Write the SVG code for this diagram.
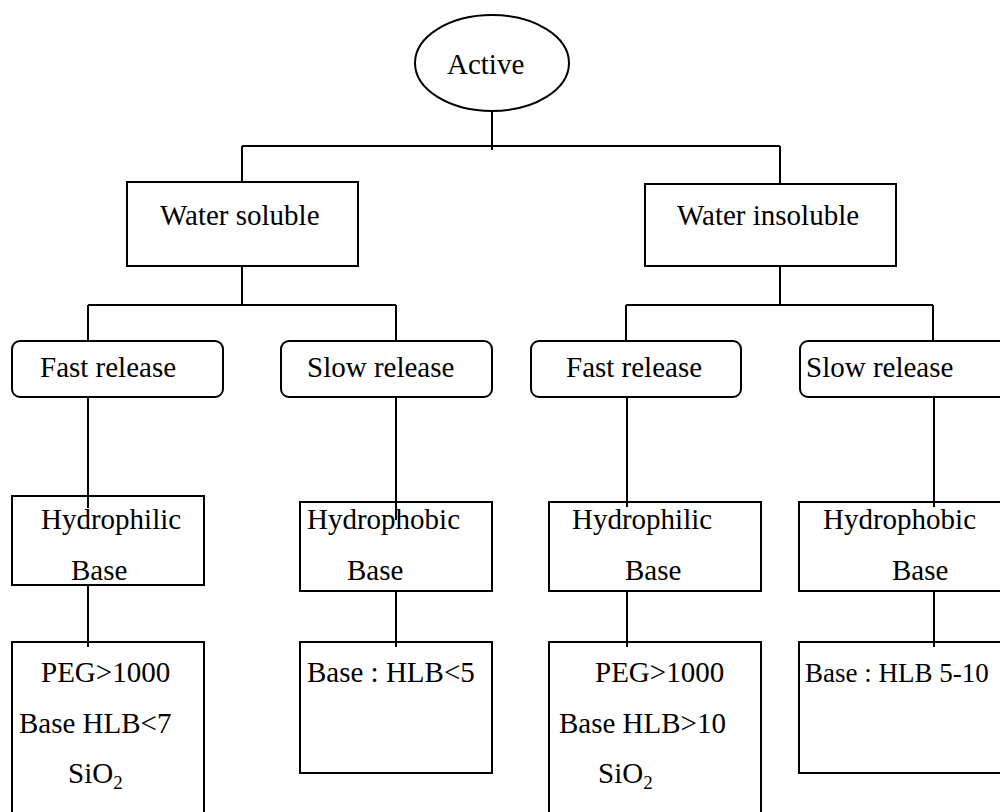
<svg xmlns="http://www.w3.org/2000/svg" width="1000" height="812" viewBox="0 0 1000 812">
<style>
.n{fill:#fff;stroke:#000;stroke-width:2}
.c{fill:none;stroke:#000;stroke-width:2}
text{font-family:"Liberation Serif","Times New Roman",serif;font-size:29px;fill:#000}
.sub{font-size:19px}
</style>
<rect width="1000" height="812" fill="#fff"/>
<g id="connectors">
<path class="c" d="M492,112V150M242,146H780M242,146V183M780,146V184"/>
<path class="c" d="M242,266V305M88,305H396M88,305V343M396,305V343"/>
<path class="c" d="M780,266V305M626,305H933M626,305V343M933,305V343"/>
</g>
<g id="n-active"><ellipse class="n" cx="492" cy="63" rx="77" ry="48"/><text x="447" y="74">Active</text></g>
<g id="n-ws"><rect class="n" x="127" y="182" width="231" height="84"/><text x="160" y="225">Water soluble</text></g>
<g id="n-wi"><rect class="n" x="645" y="184" width="251" height="82"/><text x="677" y="225">Water insoluble</text></g>
<g id="n-fr1"><rect class="n" x="12" y="341" width="211" height="56" rx="8"/><text x="40" y="377">Fast release</text></g>
<g id="n-sr1"><rect class="n" x="281" y="341" width="211" height="56" rx="8"/><text x="307" y="377">Slow release</text></g>
<g id="n-fr2"><rect class="n" x="531" y="341" width="210" height="56" rx="8"/><text x="566" y="377">Fast release</text></g>
<g id="n-sr2"><rect class="n" x="800" y="341" width="211" height="56" rx="8"/><text x="806" y="377">Slow release</text></g>
<g id="connectors2">
<path class="c" d="M88,397V508M396,397V520M627,397V507M934,397V507"/>
</g>
<g id="n-hp1"><rect class="n" x="12" y="496" width="192" height="89" fill-opacity="0"/><text x="41" y="529">Hydrophilic</text><text x="71" y="580">Base</text></g>
<g id="n-hb1"><rect class="n" x="300" y="502" width="192" height="89" fill-opacity="0"/><text x="307" y="529">Hydrophobic</text><text x="347" y="580">Base</text></g>
<g id="n-hp2"><rect class="n" x="549" y="502" width="212" height="89" fill-opacity="0"/><text x="572" y="529">Hydrophilic</text><text x="625" y="580">Base</text></g>
<g id="n-hb2"><rect class="n" x="799" y="502" width="212" height="89" fill-opacity="0"/><text x="823" y="529">Hydrophobic</text><text x="892" y="580">Base</text></g>
<g id="connectors3">
<path class="c" d="M88,585V647M396,591V647M627,591V647M934,591V647"/>
</g>
<g id="n-b1"><rect class="n" x="12" y="642" width="192" height="180" fill-opacity="0"/><text x="41" y="682">PEG&gt;1000</text><text x="19" y="733">Base HLB&lt;7</text><text x="68" y="783">SiO<tspan class="sub" dy="6">2</tspan></text></g>
<g id="n-b2"><rect class="n" x="300" y="642" width="192" height="131" fill-opacity="0"/><text x="307" y="682">Base : HLB&lt;5</text></g>
<g id="n-b3"><rect class="n" x="549" y="642" width="212" height="180" fill-opacity="0"/><text x="595" y="682">PEG&gt;1000</text><text x="559" y="733">Base HLB&gt;10</text><text x="598" y="783">SiO<tspan class="sub" dy="6">2</tspan></text></g>
<g id="n-b4"><rect class="n" x="799" y="642" width="212" height="131" fill-opacity="0"/><text x="805" y="682" style="font-size:27px">Base : HLB 5-10</text></g>
</svg>
